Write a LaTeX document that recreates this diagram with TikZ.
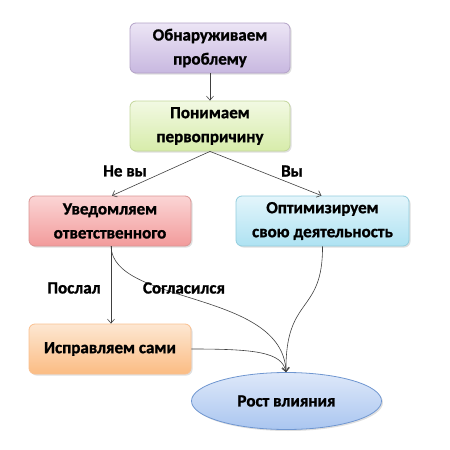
\documentclass[tikz,border=0pt]{standalone}
\usepackage{fontspec}
\setmainfont{Carlito}[BoldFeatures={FakeBold=1.2}]
\usetikzlibrary{shadows,arrows.meta,shapes.geometric}
\definecolor{edgec}{HTML}{404040}
\definecolor{pD}{RGB}{179,162,199}\definecolor{pT}{RGB}{236,229,245}\definecolor{pB}{RGB}{200,184,224}
\definecolor{gD}{RGB}{195,214,155}\definecolor{gT}{RGB}{242,249,227}\definecolor{gB}{RGB}{215,236,170}
\definecolor{rD}{RGB}{217,149,148}\definecolor{rT}{RGB}{251,213,213}\definecolor{rB}{RGB}{242,155,155}
\definecolor{bD}{RGB}{147,205,221}\definecolor{bT}{RGB}{227,245,251}\definecolor{bB}{RGB}{174,226,242}
\definecolor{oD}{RGB}{250,192,144}\definecolor{oT}{RGB}{253,231,210}\definecolor{oB}{RGB}{251,188,131}
\definecolor{eD}{RGB}{111,150,208}\definecolor{eT}{RGB}{222,232,249}\definecolor{eB}{RGB}{170,198,240}
\tikzset{
  box/.style={draw, rounded corners=6pt, minimum width=160pt, minimum height=50pt, align=center,
    font=\fontsize{17}{24}\selectfont\bfseries, line width=0.8pt, inner sep=1pt,
    drop shadow={opacity=0.25, shadow xshift=1.5pt, shadow yshift=-1.5pt}},
  conn/.style={draw=edgec, line width=0.6pt, -{Straight Barb[length=4pt,width=7pt]}},
  lab/.style={font=\fontsize{17}{19}\selectfont\bfseries, text=black, inner sep=1pt}
}
\begin{document}
\begin{tikzpicture}[x=1pt,y=-1pt]
\useasboundingbox (0,0) rectangle (450,450);
\node[box, draw=pD, top color=pT, bottom color=pB] (b1) at (210,48) {Обнаруживаем\\проблему};
\node[box, draw=gD, top color=gT, bottom color=gB] (b2) at (210,126) {Понимаем\\первопричину};
\node[box, minimum width=162pt, draw=rD, top color=rT, bottom color=rB] (r) at (110,221) {Уведомляем\\ответственного};
\node[box, minimum width=173pt, draw=bD, top color=bT, bottom color=bB] (bl) at (322.5,221) {Оптимизируем\\свою деятельность};
\node[box, minimum width=162pt, draw=oD, top color=oT, bottom color=oB] (o) at (110,349) {Исправляем сами};
\node[ellipse, draw=eD, line width=0.8pt, minimum width=190pt, minimum height=57pt, inner sep=0pt,
  top color=eT, bottom color=eB,
  font=\fontsize{17}{19}\selectfont\bfseries,
  drop shadow={opacity=0.25, shadow xshift=1.5pt, shadow yshift=-1.5pt}] (e) at (286.5,401) {Рост влияния};
\draw[conn] (b1.south) -- (b2.north);
\draw[conn] (b2.south) -- ([xshift=2pt]r.north);
\draw[conn] (b2.south) -- ([xshift=-1pt]bl.north);
\draw[conn] ([xshift=1pt]r.south) -- ([xshift=1pt]o.north);
\draw[conn] ([xshift=1pt]r.south) .. controls (113,305) and (283,290) .. ([xshift=-0.5pt]e.north);
\draw[conn] (bl.south) .. controls (323,315) and (285,295) .. ([xshift=-0.5pt]e.north);
\draw[conn] (o.east) .. controls (255,349) and (282,352) .. ([xshift=-0.5pt]e.north);
\node[lab] (l1) at (125,171) {Не вы};
\node[lab] (l2) at (292,171) {Вы};
\node[lab] (l3) at (74,288) {Послал};
\node[lab] (l4) at (184,288) {Согласился};
\end{tikzpicture}
\end{document}
